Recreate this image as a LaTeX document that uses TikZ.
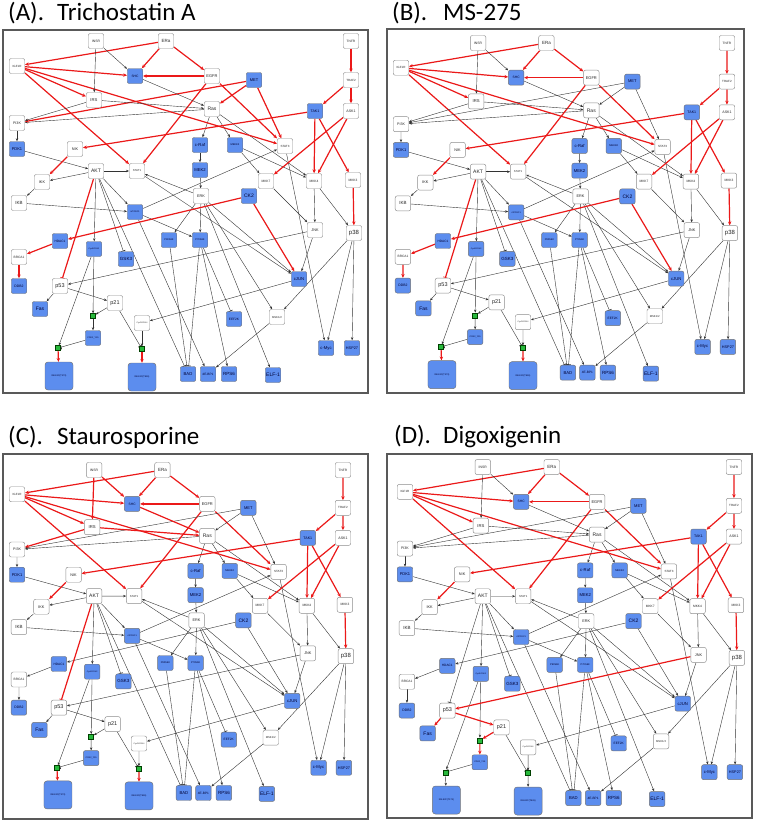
\documentclass[tikz,border=0pt]{standalone}
\usepackage{fontspec}
\setmainfont{Liberation Sans}
\newfontfamily\titlefont{Carlito}
\usetikzlibrary{arrows.meta}
\pgfdeclarelayer{bg}
\pgfsetlayers{bg,main}
\definecolor{nblue}{RGB}{92,141,238}
\definecolor{nred}{RGB}{235,25,25}
\definecolor{ngreen}{RGB}{40,185,60}
\tikzset{
 fs/.style={font=\fontsize{#1}{#1}\selectfont},
 nd/.style={draw=black!45, fill=white, rounded corners=2pt, line width=0.45pt, minimum width=15.5pt, minimum height=15pt, inner sep=0.3pt, text=black!85},
 bl/.style={nd, fill=nblue, draw=black!55, text=black!80!blue},
 big/.style={bl, minimum width=28pt, minimum height=28pt, rounded corners=3pt},
 gsq/.style={draw=green!25!black, fill=ngreen, minimum size=5pt, inner sep=0pt, line width=0.4pt},
 bk/.style={draw=black!80, line width=0.4pt, -{Stealth[length=3pt,width=2.4pt]}},
 re/.style={draw=nred, line width=1.2pt, -{Stealth[length=3.8pt,width=3.4pt]}},
 tee/.style={-{Bar[width=4.5pt,line width=0.7pt]}},
 ttl/.style={font=\titlefont\fontsize{25pt}{25pt}\selectfont, inner sep=0pt, anchor=base west},
 frm/.style={draw=black!65, line width=1.3pt},
}
\newcommand\E[3]{\draw[#1] (\P#2) -- (\P#3);}
\newcommand\netw{%
 \node[nd,fs=3.4pt] (\P insr) at (93,11) {INSR};
 \node[nd,fs=4.5pt] (\P era) at (163,11) {ERa};
 \node[nd,fs=3.2pt] (\P tnfr) at (348,11) {TNFR};
 \node[nd,fs=3pt] (\P igf) at (14,36) {IGF1R};
 \node[bl,fs=3.3pt] (\P shc) at (132,46) {SHC};
 \node[nd,fs=4pt] (\P egfr) at (209,46) {EGFR};
 \node[bl,fs=4pt] (\P met) at (251,50) {MET};
 \node[nd,fs=3pt] (\P traf) at (348,50) {TRAF2};
 \node[nd,fs=4.2pt] (\P irs) at (91,70) {IRS};
 \node[nd,fs=5pt] (\P ras) at (209,79) {Ras};
 \node[bl,fs=3.6pt] (\P tak) at (312,81) {TAK1};
 \node[nd,fs=3.6pt] (\P ask) at (348,81) {ASK1};
 \node[nd,fs=3.6pt] (\P pik) at (14,93) {PI3K};
 \node[bl,fs=4pt] (\P pdk) at (14,119) {PDK1};
 \node[nd,fs=3.8pt] (\P nik) at (72,119) {NIK};
 \node[bl,fs=4.2pt] (\P craf) at (197,115) {c-Raf};
 \node[bl,fs=2.6pt] (\P mekk) at (232,115) {MEKK2};
 \node[nd,fs=3pt] (\P stat3) at (282,116) {STAT3};
 \node[nd,fs=5pt] (\P akt) at (93,141) {AKT};
 \node[nd,fs=2.8pt] (\P stat1) at (134,141) {STAT1};
 \node[bl,fs=4.2pt] (\P mek) at (197,140) {MEK2};
 \node[nd,fs=3.8pt] (\P ikk) at (39,152) {IKK};
 \node[nd,fs=3.2pt] (\P mkk7) at (263,151) {MKK7};
 \node[nd,fs=3.2pt] (\P mkk4) at (311,151) {MKK4};
 \node[nd,fs=3.2pt] (\P mkk3) at (350,150) {MKK3};
 \node[nd,fs=3.8pt] (\P erk) at (198,166) {ERK};
 \node[bl,fs=5pt] (\P ck) at (246,166) {CK2};
 \node[nd,fs=4.5pt] (\P ikb) at (16,173) {IKB};
 \node[bl,fs=2.2pt] (\P mtor) at (132,182) {mTORC1};
 \node[nd,fs=3.8pt] (\P jnk) at (312,200) {JNK};
 \node[nd,fs=6pt] (\P p38) at (351,203) {p38};
 \node[bl,fs=3.2pt] (\P hdac) at (57,211) {HDAC1};
 \node[bl,fs=2pt] (\P cyce) at (91,219) {CycE/CDK2};
 \node[bl,fs=2.5pt] (\P p90) at (166,210) {P90S6K};
 \node[bl,fs=2.5pt] (\P p70) at (197,210) {P70S6K};
 \node[nd,fs=3.2pt] (\P brca) at (16,227) {BRCA1};
 \node[bl,fs=4.5pt] (\P gsk) at (123,229) {GSK3};
 \node[bl,fs=3.4pt] (\P ddb) at (16,256) {DDB2};
 \node[nd,fs=5.5pt] (\P p53) at (57,256) {p53};
 \node[bl,fs=4.2pt] (\P cjun) at (296,249) {cJUN};
 \node[nd,fs=5.5pt] (\P p21) at (112,273) {p21};
 \node[bl,fs=5pt] (\P fas) at (37,279) {Fas};
 \node[gsq] (\P ga) at (90,286) {};
 \node[nd,fs=2pt] (\P cycd) at (139,293) {CycD/CDK4};
 \node[bl,fs=3.2pt] (\P eef) at (231,289) {EEF2K};
 \node[nd,fs=2.8pt] (\P msk) at (274,287) {MSK1/2};
 \node[bl,fs=2.2pt] (\P cdky) at (90,308) {CDK2\_Y15};
 \node[gsq] (\P gb) at (55,318) {};
 \node[gsq] (\P gc) at (139,319) {};
 \node[bl,fs=4.2pt] (\P myc) at (323,318) {c-Myc};
 \node[bl,fs=3.8pt] (\P hsp) at (349,318) {HSP27};
 \node[big,fs=2.3pt] (\P rba) at (56,346) {RB-E2F(T373)};
 \node[big,fs=2.3pt] (\P rbb) at (139,347) {RB-E2F(T826)};
 \node[bl,fs=4.2pt] (\P bad) at (185,344) {BAD};
 \node[bl,fs=3.2pt] (\P ebp) at (205,344) {4E-BP1};
 \node[bl,fs=4.5pt] (\P rps) at (226,344) {RPS6};
 \node[bl,fs=5pt] (\P elf) at (270,345) {ELF-1};
 \begin{pgfonlayer}{bg}
 \E{bk}{ras}{pik}\E{bk}{ras}{craf}\E{bk}{ras}{mekk}\E{bk}{ras}{mkk4}
 \E{bk}{pik}{pdk}\E{bk}{pdk}{akt}\E{bk}{akt}{stat1}\E{bk}{akt}{ikk}
 \E{bk}{akt}{mtor}\E{bk}{akt}{cyce}\E{bk,tee}{akt}{gsk}\E{bk,tee}{akt}{bad}
 \E{bk}{craf}{mek}\E{bk}{mekk}{mkk7}\E{bk}{mekk}{mkk4}\E{bk}{mek}{erk}
 \E{bk}{erk}{stat1}\E{bk}{erk}{p90}\E{bk}{erk}{p70}\E{bk}{erk}{cjun}
 \E{bk}{erk}{msk}\E{bk}{erk}{elf}\E{bk}{stat1}{cjun}\E{bk}{mtor}{stat3}
 \E{bk}{mtor}{p70}\E{bk}{mtor}{ebp}\E{bk}{ikk}{ikb}\E{bk}{ikb}{mtor}
 \E{bk}{mkk7}{jnk}\E{bk}{mkk4}{jnk}\E{bk}{mkk4}{p38}\E{bk}{jnk}{cjun}
 \E{bk}{stat3}{myc}\E{bk}{p38}{myc}\E{bk}{p38}{hsp}\E{bk}{p38}{msk}
 \E{bk}{cjun}{cycd}\E{bk,tee}{p90}{bad}\E{bk,tee}{p70}{bad}\E{bk}{p70}{rps}
 \E{bk,tee}{p70}{eef}\E{bk}{msk}{ebp}\E{bk}{cyce}{ga}\E{bk}{cyce}{gb}
 \E{bk,tee}{cdky}{gb}\E{bk,tee}{p21}{gc}\E{bk}{cycd}{gc}
 \E{re}{era}{igf}\E{re}{era}{shc}\E{re}{era}{egfr}\E{re}{igf}{shc}
 \E{re}{igf}{irs}\E{re}{igf}{stat3}\E{re}{igf}{stat1}\E{re}{egfr}{shc}
 \E{re}{egfr}{stat1}\E{re}{egfr}{stat3}\E{re}{tnfr}{traf}\E{re}{traf}{tak}
 \E{re}{traf}{ask}\E{re}{tak}{nik}\E{re}{tak}{mkk4}\E{re}{tak}{mkk3}
 \E{re}{ask}{mkk7}\E{re}{ask}{mkk4}\E{re}{nik}{ikk}\E{re}{mkk3}{p38}
 \E{g1}{met}{pik}\E{g1}{met}{ras}\E{g1}{met}{stat3}
 \E{g2}{insr}{shc}\E{g2}{insr}{irs}\E{g2}{shc}{ras}\E{g2}{irs}{ras}\E{g2}{irs}{pik}
 \E{g3}{ck}{hdac}\E{g3}{ck}{cjun}\E{g3}{hdac}{brca}\E{g3}{brca}{ddb}
 \E{g4,tee}{akt}{p53}
 \E{g5}{jnk}{p53}\E{g5}{p53}{fas}\E{g5}{p53}{p21}\E{g5}{p21}{ga}\E{g5}{ga}{cdky}
 \E{g6}{gb}{rba}\E{g6}{gc}{rbb}
 \end{pgfonlayer}
}
\begin{document}
\begin{tikzpicture}[x=1pt,y=-1pt]
\useasboundingbox (0,0) rectangle (756,823);
\begin{pgfonlayer}{bg}
\fill[white] (0,0) rectangle (756,823);
\end{pgfonlayer}
\node[ttl] (tA) at (8,20) {\makebox[49pt][l]{(A).}Trichostatin A};
\node[ttl] (tB) at (392,20) {\makebox[51pt][l]{(B).}MS-275};
\node[ttl] (tC) at (8,444) {\makebox[49pt][l]{(C).}Staurosporine};
\node[ttl] (tD) at (394,443) {\makebox[49pt][l]{(D).}Digoxigenin};
\draw[frm] (3,30) rectangle (368,393);
\draw[frm] (387,29) rectangle (744,393);
\draw[frm] (3,454) rectangle (368,819);
\draw[frm] (387,454) rectangle (752,818);
\begin{scope}[shift={(3,30)}, g1/.style={re}, g2/.style={bk}, g3/.style={re}, g4/.style={re}, g5/.style={bk}, g6/.style={re}]
\def\P{A}\netw
\end{scope}
\begin{scope}[shift={(387.34,32.1)}, xscale=0.976, yscale=0.99, g1/.style={bk}, g2/.style={bk}, g3/.style={re}, g4/.style={re}, g5/.style={bk}, g6/.style={re}]
\def\P{B}\netw
\end{scope}
\begin{scope}[shift={(3.34,459.3)}, xscale=0.976, yscale=0.97, g1/.style={bk}, g2/.style={re}, g3/.style={bk}, g4/.style={re}, g5/.style={bk}, g6/.style={re}]
\def\P{C}\netw
\end{scope}
\begin{scope}[shift={(391.2,456.1)}, xscale=0.985, yscale=0.994, g1/.style={bk}, g2/.style={bk}, g3/.style={bk}, g4/.style={bk}, g5/.style={re}, g6/.style={bk}]
\def\P{D}\netw
\end{scope}
\end{tikzpicture}
\end{document}
